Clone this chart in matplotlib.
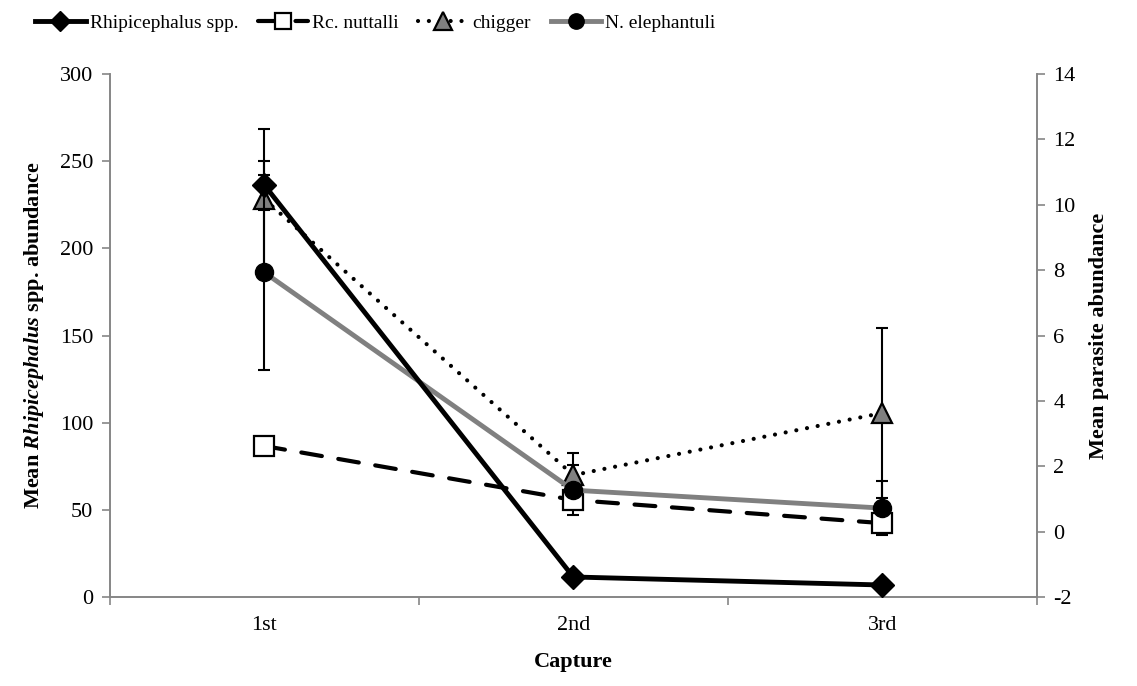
import numpy as np
import matplotlib
matplotlib.use("Agg")
import matplotlib.pyplot as plt
from matplotlib.ticker import MultipleLocator, FixedLocator

plt.rcParams["font.family"] = ["Liberation Serif", "DejaVu Serif"]
plt.rcParams["mathtext.fontset"] = "custom"
plt.rcParams["mathtext.it"] = "Liberation Serif:bold:italic"
plt.rcParams["mathtext.rm"] = "Liberation Serif:bold"
plt.rcParams["mathtext.bf"] = "Liberation Serif:bold"
plt.rcParams["axes.unicode_minus"] = False

captures = ["1st", "2nd", "3rd"]

rhipi = [236.3, 11.5, 6.9]
rhipi_err = [14.0, 1.0, 0.8]

nuttalli = [2.62, 0.97, 0.26]
nuttalli_err = [0.2, 0.12, 0.25]

chigger = [10.17, 1.73, 3.63]
chigger_err = [2.14, 0.67, 2.59]

eleph = [7.93, 1.27, 0.72]
eleph_err = [2.97, 0.76, 0.83]

x = np.arange(len(captures))
grey = "#808080"
axis_col = "#868686"

fig = plt.figure(figsize=(11.37, 6.86), dpi=100)
ax = fig.add_axes([0.0967, 0.1297, 0.815, 0.7623])
ax2 = ax.twinx()

eb = dict(fmt="none", ecolor="black", elinewidth=1.5, capsize=4.5, capthick=1.5, zorder=2)

# right axis series
ax2.errorbar(x, eleph, yerr=eleph_err, **eb)
ax2.errorbar(x, chigger, yerr=chigger_err, **eb)
ax2.errorbar(x, nuttalli, yerr=nuttalli_err, **eb)

l_nut, = ax2.plot(x, nuttalli, color="black", lw=3, dashes=(5, 4), dash_capstyle="round",
                  marker="s", ms=14, mfc="white", mec="black", mew=1.6, zorder=3, label="Rc. nuttalli")
l_chi, = ax2.plot(x, chigger, color="black", lw=3, linestyle=(0, (0.01, 2.6)), dash_capstyle="round",
                  marker="^", ms=15, mfc=grey, mec="black", mew=1.6, zorder=3, label="chigger")
l_ele, = ax2.plot(x, eleph, color=grey, lw=3.5, marker="o", ms=13, mfc="black", mec="black",
                  zorder=3, label="N. elephantuli")

# left axis series
ax.errorbar(x, rhipi, yerr=rhipi_err, **eb)
l_rhi, = ax.plot(x, rhipi, color="black", lw=3.5, marker="D", ms=12, mfc="black", mec="black",
                 zorder=3, label="Rhipicephalus spp.")

ax.set_zorder(ax2.get_zorder() + 1)
ax.patch.set_visible(False)

ax.set_xlim(-0.5, 2.5)
ax.set_ylim(0, 300)
ax2.set_ylim(-2, 14)
ax.yaxis.set_major_locator(MultipleLocator(50))
ax2.yaxis.set_major_locator(MultipleLocator(2))

ax.set_xticks(x)
ax.set_xticklabels(captures)
ax.xaxis.set_minor_locator(FixedLocator([-0.5, 0.5, 1.5, 2.5]))
ax.tick_params(axis="x", which="major", length=0, pad=14, labelsize=16)
ax.tick_params(axis="x", which="minor", length=6, color=axis_col, width=1.2, direction="out")
ax.tick_params(axis="y", length=6, color=axis_col, width=1.2, direction="out", labelsize=16, pad=6)
ax2.tick_params(axis="y", length=6, color=axis_col, width=1.2, direction="out", labelsize=16, pad=6)

for a in (ax, ax2):
    a.spines["top"].set_visible(False)
    for s in ("left", "right", "bottom"):
        a.spines[s].set_color(axis_col)
        a.spines[s].set_linewidth(1.2)

ax.set_xlabel("Capture", fontsize=16, fontweight="bold", labelpad=12)
ax.set_ylabel(r"Mean $\mathit{Rhipicephalus}$ spp. abundance", fontsize=16, fontweight="bold", labelpad=10)
ax2.set_ylabel("Mean parasite abundance", fontsize=16, fontweight="bold", labelpad=10)

fig.legend(handles=[l_rhi, l_nut, l_chi, l_ele], loc="upper center", bbox_to_anchor=(0.33, 1.005),
           ncol=4, frameon=False, fontsize=14, handlelength=2.6, columnspacing=1.0,
           handletextpad=0.2, markerscale=0.85)

fig.savefig("out.png", dpi=100)
